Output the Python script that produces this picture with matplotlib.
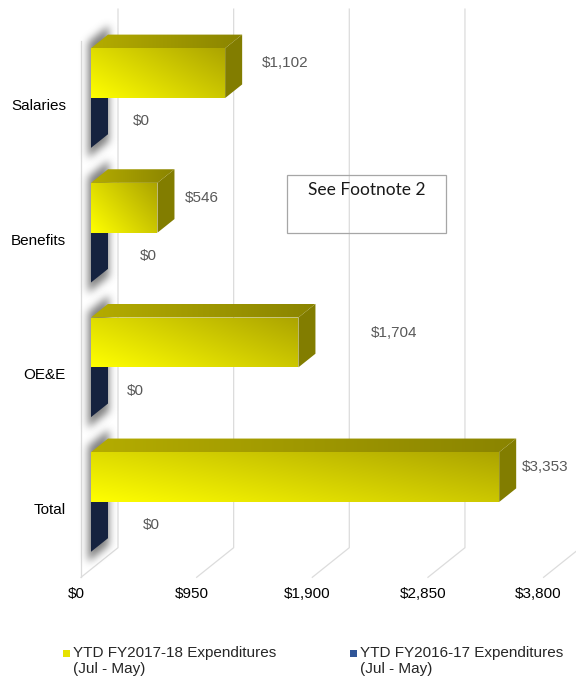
import numpy as np
import matplotlib
matplotlib.use("Agg")
import matplotlib.pyplot as plt
from matplotlib.patches import Polygon, Rectangle
from matplotlib.path import Path
from matplotlib.colors import to_rgb

plt.rcParams["font.family"] = ["Liberation Sans", "DejaVu Sans"]

# ---- data -------------------------------------------------------------
categories = ["Salaries", "Benefits", "OE&E", "Total"]
ytd_2017_18 = [1102, 546, 1704, 3353]
ytd_2016_17 = [0, 0, 0, 0]
value_ticks = [0, 950, 1900, 2850, 3800]
series_labels = ["YTD FY2017-18 Expenditures\n(Jul - May)",
                 "YTD FY2016-17 Expenditures\n(Jul - May)"]
note_text = "See Footnote 2"

# label nudges (pixels) to keep value labels clear of the boxes
label_dx_new = [20, 10, 55, 6]
label_dx_old = [25, 32, 19, 35]


def money(v):
    return f"${v:,.0f}"


W, H, DPI = 576, 679, 100
fig = plt.figure(figsize=(W / DPI, H / DPI), dpi=DPI)
fig.patch.set_facecolor("white")


def px_box(x0, y0, x1, y1):
    return [x0 / W, 1 - y1 / H, (x1 - x0) / W, (y1 - y0) / H]


ax = fig.add_axes(px_box(91, 30.7, 553.6, 569.3))
ax.set_xlim(0, 3800)
ax.set_ylim(3.5, -0.5)
ax.axis("off")

# oblique projection: one unit of depth shifts 1 px right and 0.8 px up
_origin = ax.transData.transform((0, 0))
DEPTH = ax.transData.inverted().transform(_origin + np.array([1.0, 0.8]))


def P(v, y, z=0.0):
    return np.array([v, y]) + z * DEPTH


BAR_H = 0.37
BAR_D = 17
Z_BACK, Z_FRONT = 27, -10
Y_TOP, Y_FLOOR = -0.5, 3.5
GRID = "#dcdcdc"

# ---- walls and floor --------------------------------------------------
for v in value_ticks:
    pts = np.array([P(v, Y_TOP, Z_BACK), P(v, Y_FLOOR, Z_BACK),
                    P(v, Y_FLOOR, Z_FRONT)])
    ax.plot(pts[:, 0], pts[:, 1], color=GRID, lw=0.9, clip_on=False, zorder=1)
wall = np.array([P(0, Y_TOP + 0.02, Z_FRONT), P(0, Y_FLOOR, Z_FRONT)])
ax.plot(wall[:, 0], wall[:, 1], color=GRID, lw=0.9, clip_on=False, zorder=1)


# ---- helpers ----------------------------------------------------------
def gradient_face(pts, c0, c1, wu, ww, zorder):
    """Fill a face with a diagonal blend from c0 (lower-left) to c1 (upper-right)."""
    pts = np.asarray(pts)
    poly = Polygon(pts, closed=True, facecolor="none", edgecolor="none")
    ax.add_patch(poly)
    x0, x1 = pts[:, 0].min(), pts[:, 0].max()
    y0, y1 = pts[:, 1].min(), pts[:, 1].max()
    n = 96
    U, Wr = np.meshgrid(np.linspace(0, 1, n), np.linspace(0, 1, n))
    t = np.clip(wu * U + ww * (1 - Wr), 0, 1)[..., None]
    img = (1 - t) * np.array(to_rgb(c0)) + t * np.array(to_rgb(c1))
    im = ax.imshow(img, extent=(x0, x1, y1, y0), origin="upper",
                   aspect="auto", interpolation="bilinear", zorder=zorder)
    im.set_clip_path(poly)


def soft_shadow(pts, sigma=4.0, alpha=0.8, zorder=2):
    disp = ax.transData.transform(np.asarray(pts))
    pad = 4 * sigma
    x0, y0 = disp.min(0) - pad
    x1, y1 = disp.max(0) + pad
    nx, ny = int(np.ceil(x1 - x0)), int(np.ceil(y1 - y0))
    gx, gy = np.meshgrid(x0 + np.arange(nx) + 0.5, y0 + np.arange(ny) + 0.5)
    mask = Path(disp).contains_points(np.c_[gx.ravel(), gy.ravel()])
    mask = mask.reshape(ny, nx).astype(float)
    r = int(3 * sigma)
    k = np.exp(-np.arange(-r, r + 1) ** 2 / (2 * sigma ** 2))
    k /= k.sum()
    mask = np.apply_along_axis(lambda m: np.convolve(m, k, mode="same"), 0, mask)
    mask = np.apply_along_axis(lambda m: np.convolve(m, k, mode="same"), 1, mask)
    rgba = np.zeros((ny, nx, 4))
    rgba[..., :3] = 0.38
    rgba[..., 3] = np.clip(mask, 0, 1) * alpha
    inv = ax.transData.inverted()
    dx0, dy0 = inv.transform((x0, y0))
    dx1, dy1 = inv.transform((x1, y1))
    im = ax.imshow(rgba, extent=(dx0, dx1, dy0, dy1), origin="lower",
                   aspect="auto", interpolation="bilinear", zorder=zorder)
    im.set_clip_on(False)


# ---- bars -------------------------------------------------------------
NAVY = "#15223f"
for i, (new, old) in enumerate(zip(ytd_2017_18, ytd_2016_17)):
    top, mid, bot = i - BAR_H, i, i + BAR_H

    # soft shadow cast on the side wall
    soft_shadow([P(0, top - 0.06, -3), P(0, bot + 0.06, -3),
                 P(0, bot + 0.06, BAR_D + 1), P(0, top - 0.06, BAR_D + 1)])

    # prior-year bar (end face only shows at zero)
    ax.add_patch(Polygon([P(old, mid, 0), P(old, bot, 0),
                          P(old, bot, BAR_D), P(old, mid, BAR_D)],
                         closed=True, facecolor=NAVY, edgecolor="none",
                         zorder=3, clip_on=False))
    if old > 0:
        ax.add_patch(Rectangle((0, mid), old, BAR_H, facecolor=NAVY,
                               edgecolor="none", zorder=3))

    # current-year bar: side, top and front faces
    ax.add_patch(Polygon([P(new, top, 0), P(new, mid, 0),
                          P(new, mid, BAR_D), P(new, top, BAR_D)],
                         closed=True, facecolor="#827d00", edgecolor="none",
                         zorder=4, clip_on=False))
    gradient_face([P(0, top, 0), P(new, top, 0), P(new, top, BAR_D),
                   P(0, top, BAR_D)], "#b4ac00", "#8a8400", 1.0, 0.0, 4)
    gradient_face([P(0, mid, 0), P(new, mid, 0), P(new, top, 0),
                   P(0, top, 0)], "#ffff00", "#aaa200", 0.6, 0.38, 5)

    # value labels
    ax.annotate(money(new), xy=P(new, mid, BAR_D), xytext=(label_dx_new[i], 21),
                textcoords="offset pixels", ha="left", va="center",
                fontsize=11, color="#595959", zorder=6, annotation_clip=False)
    ax.annotate(money(old), xy=P(old, mid, BAR_D), xytext=(label_dx_old[i], -37),
                textcoords="offset pixels", ha="left", va="center",
                fontsize=11, color="#595959", zorder=6, annotation_clip=False)

    # category label
    ax.annotate(categories[i], xy=(0, mid), xytext=(-25, -8),
                textcoords="offset pixels", ha="right", va="center",
                fontsize=11, color="black", annotation_clip=False)

# value-axis tick labels along the front edge of the floor
for v in value_ticks:
    ax.annotate(money(v), xy=P(v, Y_FLOOR, Z_FRONT), xytext=(-5, -17),
                textcoords="offset pixels", ha="center", va="center",
                fontsize=11, color="black", annotation_clip=False)

# ---- note box ---------------------------------------------------------
fig.patches.append(Rectangle((287 / W, 1 - 233 / H), 159 / W, 58 / H,
                             transform=fig.transFigure, facecolor="none",
                             edgecolor="#a6a6a6", lw=0.9, zorder=7))
fig.text(366.5 / W, 1 - 190 / H, note_text, ha="center", va="center",
         fontsize=12.5, family=["Lato", "DejaVu Sans"], color="#1a1a1a",
         zorder=8)

# ---- legend -----------------------------------------------------------
legend_colors = ["#e6e200", "#2f5597"]
legend_x = [63, 350]
for x, c, lab in zip(legend_x, legend_colors, series_labels):
    fig.patches.append(Rectangle((x / W, 1 - 657 / H), 7 / W, 7 / H,
                                 transform=fig.transFigure, facecolor=c,
                                 edgecolor="none"))
    fig.text((x + 10) / W, 1 - 646 / H, lab, ha="left", va="top",
             fontsize=11, color="#262626", linespacing=1.2)

fig.savefig("out.png", dpi=DPI, facecolor="white")
